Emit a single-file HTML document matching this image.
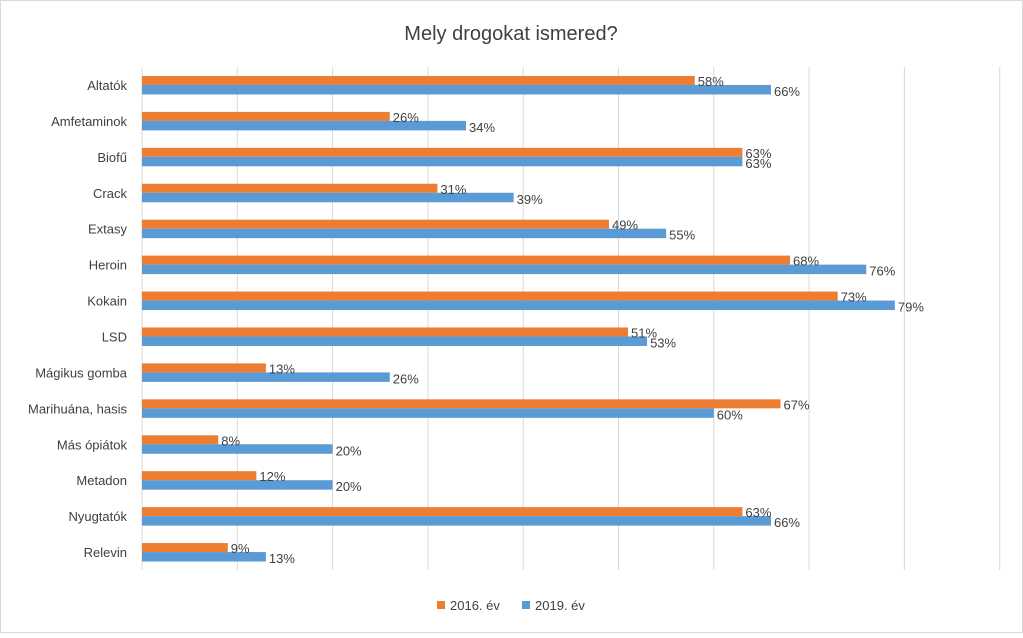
<!DOCTYPE html>
<html><head><meta charset="utf-8"><style>
body{margin:0;background:#fff;}
svg text{font-family:"Liberation Sans",sans-serif;fill:#404040;}
</style></head><body>
<svg id="chart" width="1023" height="633">
<rect x="0.5" y="0.5" width="1022" height="632" fill="#fff" stroke="#d9d9d9"/>
<text x="511" y="40" text-anchor="middle" font-size="20">Mely drogokat ismered?</text>
<g id="grid"></g><g id="bars"></g><g id="labels"></g>
<g>
<rect x="437" y="601" width="8" height="8" fill="#ed7d31"/>
<text x="450" y="610" font-size="13">2016. év</text>
<rect x="522" y="601" width="8" height="8" fill="#5b9bd5"/>
<text x="535" y="610" font-size="13">2019. év</text>
</g>
</svg>
<script>
const categories=["Altatók","Amfetaminok","Biofű","Crack","Extasy","Heroin","Kokain","LSD","Mágikus gomba","Marihuána, hasis","Más ópiátok","Metadon","Nyugtatók","Relevin"];
const values2016=[58,26,63,31,49,68,73,51,13,67,8,12,63,9];
const values2019=[66,34,63,39,55,76,79,53,26,60,20,20,66,13];
const ticks=[0,10,20,30,40,50,60,70,80,90];
const NS="http://www.w3.org/2000/svg";
const x0=142,pxPer=9.53,plotTop=67,rowH=35.93;
const xs=v=>x0+v*pxPer;
const yc=i=>plotTop+rowH*(i+0.5);
function mk(t,a,p){const e=document.createElementNS(NS,t);for(const k in a)e.setAttribute(k,a[k]);document.getElementById(p).appendChild(e);return e;}
ticks.forEach(t=>{
 const l=mk('line',{x1:xs(t),x2:xs(t),y1:plotTop,y2:570,stroke:'#d9d9d9'},'grid');
 
 
});
categories.forEach((c,i)=>{
 const y=yc(i);
 const ct=mk('text',{x:127,y:y+5,'text-anchor':'end','font-size':13},'labels');
 ct.textContent=c;
 
 
 const b1=mk('rect',{x:x0,y:y-9,width:xs(values2016[i])-x0,height:9,fill:'#ed7d31'},'bars');
 
 
 const b2=mk('rect',{x:x0,y:y,width:xs(values2019[i])-x0,height:9.5,fill:'#5b9bd5'},'bars');
 
 
 const l1=mk('text',{x:xs(values2016[i])+3,y:y+1,'font-size':13},'labels');
 l1.textContent=values2016[i]+'%';
 
 
 const l2=mk('text',{x:xs(values2019[i])+3,y:y+11,'font-size':13},'labels');
 l2.textContent=values2019[i]+'%';
 
 
});
</script>
</body></html>
